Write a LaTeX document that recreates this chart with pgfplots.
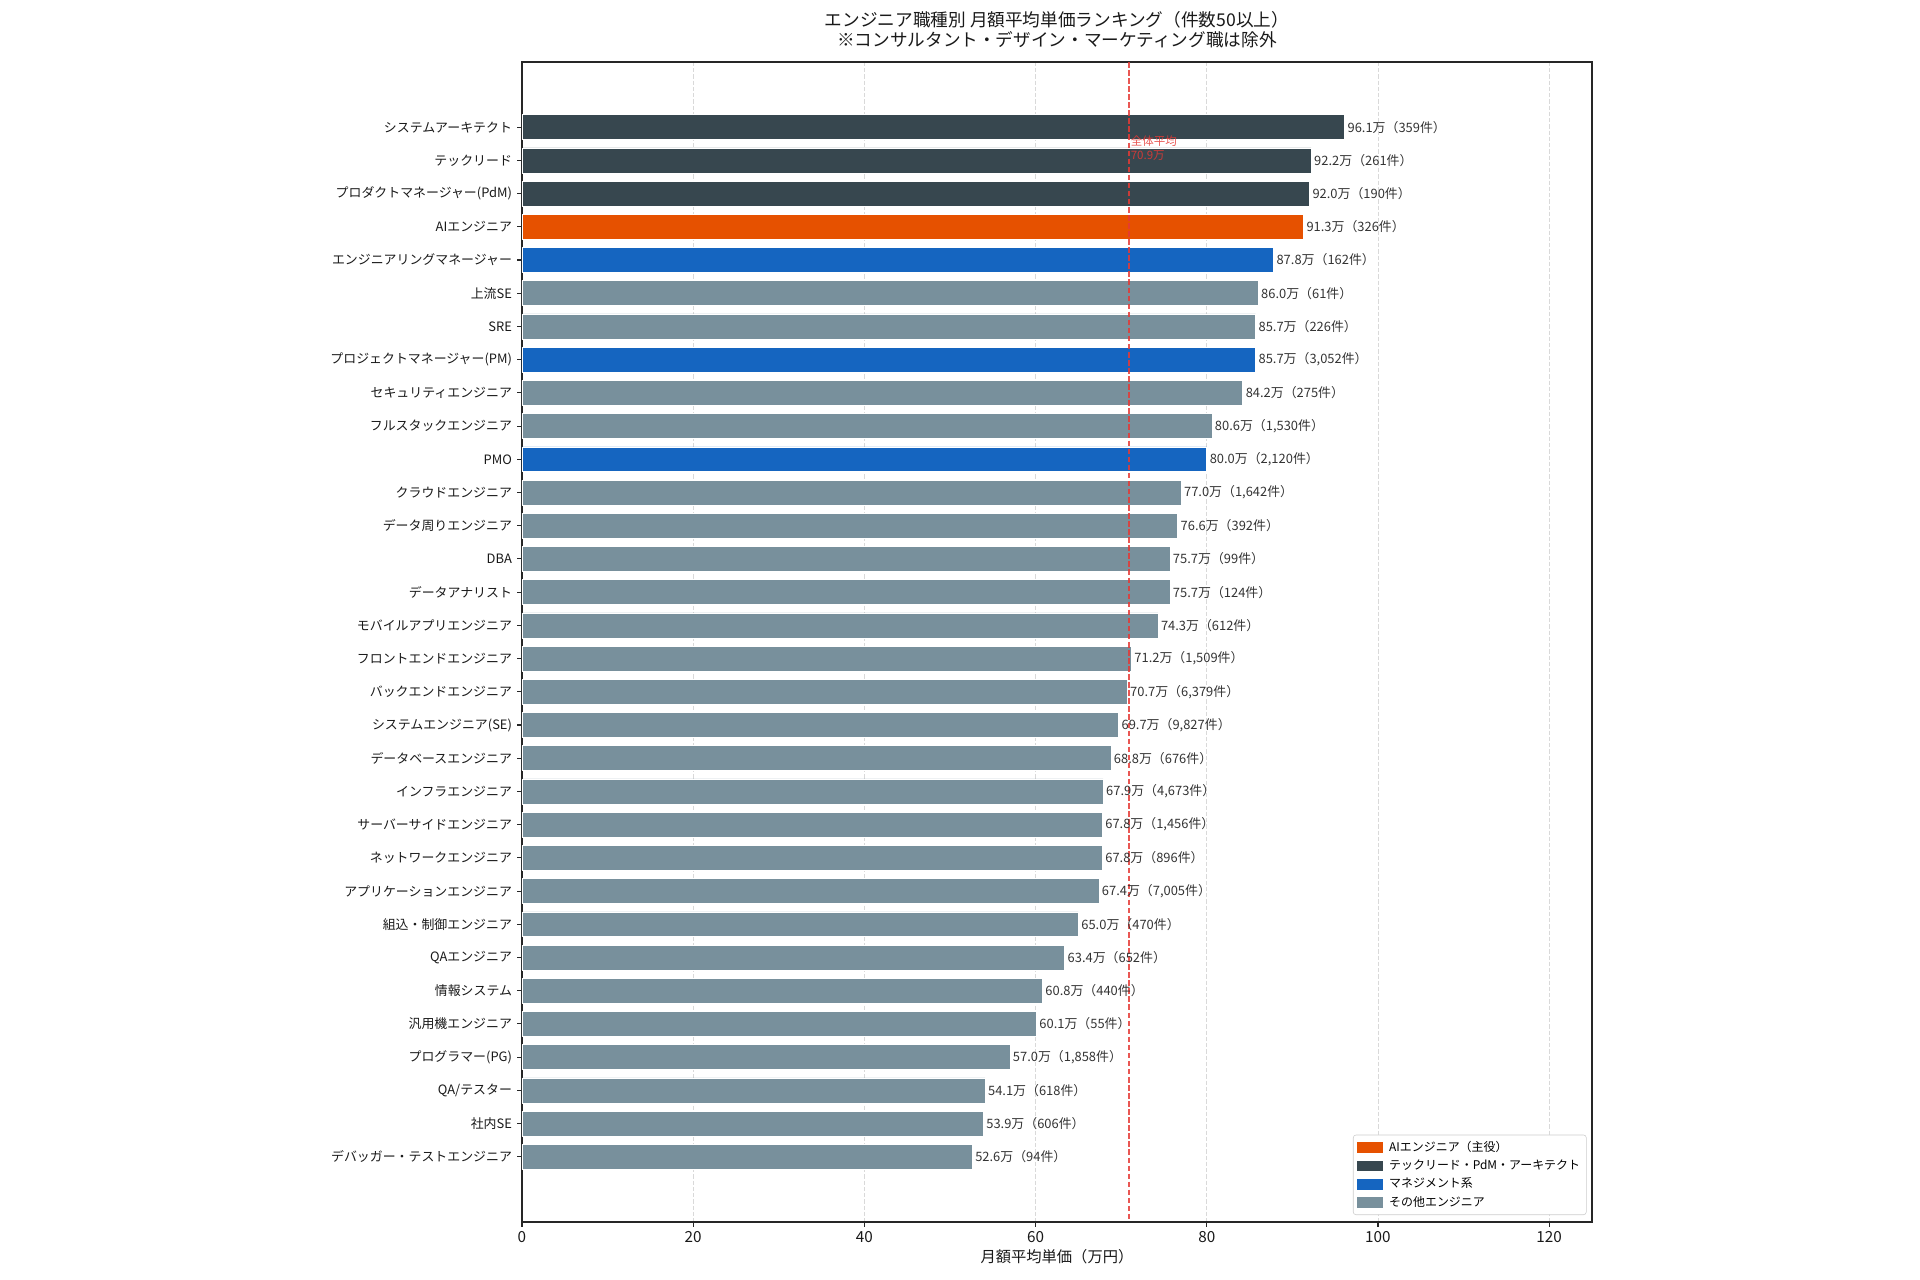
\documentclass[border=0pt]{standalone}
\usepackage{fontspec}
\setmainfont{Noto Sans CJK JP}
\usepackage{pgfplots}
\pgfplotsset{compat=1.18}
\definecolor{cai}{HTML}{E65100}
\definecolor{cdark}{HTML}{37474F}
\definecolor{cblue}{HTML}{1565C0}
\definecolor{cgray}{HTML}{78909C}
\definecolor{cmean}{HTML}{E53935}
\definecolor{ctext}{HTML}{333333}
\pgfplotsset{
  mybar/.style={fill=#1, draw=white, line width=0.4pt,
    nodes near coords,
    point meta=explicit symbolic,
    every node near coord/.append style={anchor=west, xshift=2pt, inner sep=0pt,
      font=\fontsize{9.3}{10}\selectfont, text=ctext},
    legend image code/.code={\fill[#1, sharp corners] (0pt,-3.5pt) rectangle (18pt,3.5pt);}},
}
\begin{document}
\begin{tikzpicture}
\useasboundingbox (0,0) rectangle (1382.4pt,921.6pt);
\node[align=center, font=\fontsize{12.7}{14.4}\selectfont, text=black!90] at (761pt,900.5pt)
  {エンジニア職種別 月額平均単価ランキング（件数50以上）\\※コンサルタント・デザイン・マーケティング職は除外};
\begin{axis}[
  at={(375.8pt,41.8pt)}, anchor=south west,
  scale only axis, width=770.4pt, height=835.2pt,
  xmin=0, xmax=125, ymin=-1.9625, ymax=32.9625, y dir=reverse,
  xbar, bar width=0.75, bar shift=0pt,
  xtick={0,20,...,120},
  ytick={0,...,31},
  yticklabels={システムアーキテクト,テックリード,プロダクトマネージャー(PdM),AIエンジニア,エンジニアリングマネージャー,上流SE,SRE,プロジェクトマネージャー(PM),セキュリティエンジニア,フルスタックエンジニア,PMO,クラウドエンジニア,データ周りエンジニア,DBA,データアナリスト,モバイルアプリエンジニア,フロントエンドエンジニア,バックエンドエンジニア,システムエンジニア(SE),データベースエンジニア,インフラエンジニア,サーバーサイドエンジニア,ネットワークエンジニア,アプリケーションエンジニア,組込・制御エンジニア,QAエンジニア,情報システム,汎用機エンジニア,プログラマー(PG),QA/テスター,社内SE,デバッガー・テストエンジニア},
  tick align=outside, tick pos=left, major tick length=3.5pt,
  every tick/.style={line width=0.8pt, black!85},
  axis line style={line width=0.8pt, black!85},
  yticklabel style={font=\fontsize{9.3}{10}\selectfont, text=black!90, inner sep=0pt, xshift=-3.5pt},
  xticklabel style={font=\fontsize{11}{12}\selectfont, text=black!90},
  /pgf/number format/assume math mode=true,
  xlabel={月額平均単価（万円）},
  xlabel style={font=\fontsize{11}{12}\selectfont, text=black!90, yshift=2pt},
  xmajorgrids,
  major x grid style={dash pattern=on 3pt off 1.5pt, color=black!15, line width=0.6pt},
  legend style={at={(0.995,0.006)}, anchor=south east, font=\fontsize{8.6}{9.6}\selectfont,
    draw=black!20, rounded corners=2pt, fill=white, inner sep=2.5pt, row sep=0.6pt,
    /tikz/every odd column/.append style={column sep=3pt}},
  legend cell align=left,
]
\addplot[mybar=cai] table[x=v,y=i,meta=lab] {
v i lab
91.3 3 91.3万（326件）
};
\addlegendentry{AIエンジニア（主役）}
\addplot[mybar=cdark] table[x=v,y=i,meta=lab] {
v i lab
96.1 0 96.1万（359件）
92.2 1 92.2万（261件）
92.0 2 92.0万（190件）
};
\addlegendentry{テックリード・PdM・アーキテクト}
\addplot[mybar=cblue] table[x=v,y=i,meta=lab] {
v i lab
87.8 4 87.8万（162件）
85.7 7 85.7万（3,052件）
80.0 10 80.0万（2,120件）
};
\addlegendentry{マネジメント系}
\addplot[mybar=cgray] table[x=v,y=i,meta=lab] {
v i lab
86.0 5 86.0万（61件）
85.7 6 85.7万（226件）
84.2 8 84.2万（275件）
80.6 9 80.6万（1,530件）
77.0 11 77.0万（1,642件）
76.6 12 76.6万（392件）
75.7 13 75.7万（99件）
75.7 14 75.7万（124件）
74.3 15 74.3万（612件）
71.2 16 71.2万（1,509件）
70.7 17 70.7万（6,379件）
69.7 18 69.7万（9,827件）
68.8 19 68.8万（676件）
67.9 20 67.9万（4,673件）
67.8 21 67.8万（1,456件）
67.8 22 67.8万（896件）
67.4 23 67.4万（7,005件）
65.0 24 65.0万（470件）
63.4 25 63.4万（652件）
60.8 26 60.8万（440件）
60.1 27 60.1万（55件）
57.0 28 57.0万（1,858件）
54.1 29 54.1万（618件）
53.9 30 53.9万（606件）
52.6 31 52.6万（94件）
};
\addlegendentry{その他エンジニア}
\addplot[forget plot, sharp plot, draw=cmean, draw opacity=0.85, line width=1.1pt,
  dash pattern=on 4pt off 1.8pt] coordinates {(70.9,-1.9625) (70.9,32.9625)};
\node[anchor=west, align=left, inner sep=0pt, text=cmean, text opacity=0.85,
  font=\fontsize{8.3}{9.6}\selectfont] at (axis cs:71.1,0.63) {全体平均\\70.9万};
\end{axis}
\end{tikzpicture}
\end{document}
